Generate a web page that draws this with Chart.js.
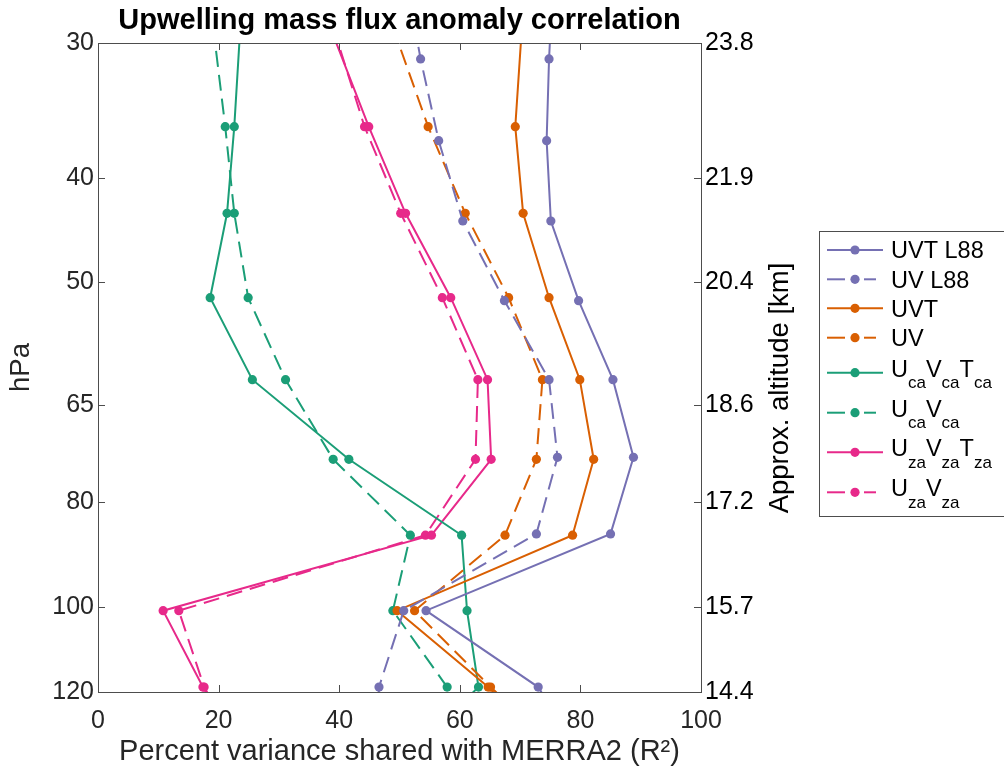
<!DOCTYPE html>
<html>
<head>
<meta charset="utf-8">
<script src="https://cdn.jsdelivr.net/npm/chart.js@4.4.1/dist/chart.umd.min.js"></script>
<style>
  html, body { margin: 0; padding: 0; background: #fff; }
  #wrap { width: 1004px; height: 777px; }
</style>
</head>
<body>
<div id="wrap"><canvas id="chart" width="1004" height="777"></canvas></div>
<script>
// pressure levels (hPa); first and last sit just outside the axis range
const levels = [29.0, 35.87, 43.16, 51.69, 61.58, 73.0, 85.85, 100.87, 118.74, 140];
const levelsL88 = [26.0, 31.04, 36.96, 43.88, 52.02, 61.58, 72.69, 85.61, 100.87, 118.74, 140];

// percent variance shared with MERRA2 at each level
const uvtL88 = [75.5, 74.8, 74.4, 75.1, 79.7, 85.4, 88.8, 85.0, 54.4, 73.0, 81];
const uvL88 = [51.0, 53.5, 56.5, 60.5, 67.4, 74.8, 76.2, 72.7, 50.7, 46.6, 46];
const uvt = [70.3, 69.2, 70.5, 74.8, 79.9, 82.2, 78.7, 49.6, 64.7, 78];
const uv = [48.9, 54.75, 60.9, 68.1, 73.7, 72.7, 67.5, 52.5, 65.1, 79];
const ucaVcaTca = [23.6, 22.6, 21.4, 18.6, 25.6, 41.6, 60.3, 61.2, 63.1, 50];
const ucaVca = [19.1, 21.1, 22.6, 24.9, 31.1, 39.0, 51.8, 48.9, 57.9, 65.6];
const uzaVzaTza = [38.5, 44.9, 51.0, 58.5, 64.6, 65.2, 55.3, 10.8, 17.4, 25.4];
const uzaVza = [39.0, 44.2, 50.2, 57.1, 63.0, 62.6, 54.3, 13.4, 17.6, 25];

const pTicks = [30, 40, 50, 65, 80, 100, 120];
const altLabels = ["23.8", "21.9", "20.4", "18.6", "17.2", "15.7", "14.4"];

// legend names as [text, subscript] pieces
const legendNames = [
  [["UVT L88", ""]],
  [["UV L88", ""]],
  [["UVT", ""]],
  [["UV", ""]],
  [["U", "ca"], ["V", "ca"], ["T", "ca"]],
  [["U", "ca"], ["V", "ca"]],
  [["U", "za"], ["V", "za"], ["T", "za"]],
  [["U", "za"], ["V", "za"]],
];

const PURPLE = "#7570b3", ORANGE = "#d95f02", GREEN = "#1b9e77", PINK = "#e7298a";
const FONT = "'Liberation Sans', Arial, Helvetica, sans-serif";
const AXIS = "#4d4d4d";
const DASH = [16, 8];

const pts = (vals, lev) => vals.map((v, i) => ({ x: v, y: lev[i] }));

const series = [
  { data: pts(uvtL88, levelsL88), color: PURPLE, dashed: false },
  { data: pts(uvL88, levelsL88), color: PURPLE, dashed: true },
  { data: pts(uvt, levels), color: ORANGE, dashed: false },
  { data: pts(uv, levels), color: ORANGE, dashed: true },
  { data: pts(ucaVcaTca, levels), color: GREEN, dashed: false },
  { data: pts(ucaVca, levels), color: GREEN, dashed: true },
  { data: pts(uzaVzaTza, levels), color: PINK, dashed: false },
  { data: pts(uzaVza, levels), color: PINK, dashed: true },
];

const datasets = series.map((s, i) => ({
  label: legendNames[i].map((p) => p[0] + p[1]).join(""),
  data: s.data,
  borderColor: s.color,
  backgroundColor: s.color,
  pointBackgroundColor: s.color,
  pointBorderColor: s.color,
  pointBorderWidth: 0,
  pointRadius: 4.6,
  borderWidth: 2,
  borderDash: s.dashed ? DASH : [],
  tension: 0,
  fill: false,
}));

// inward ticks, top border, right-hand title and legend with subscripts
const decor = {
  id: "decor",
  afterDraw(chart) {
    const { ctx, chartArea: a, scales } = chart;
    const T = 7;
    ctx.save();
    ctx.strokeStyle = AXIS;
    ctx.lineWidth = 1;
    const seg = (x1, y1, x2, y2) => {
      ctx.beginPath();
      ctx.moveTo(x1, y1);
      ctx.lineTo(x2, y2);
      ctx.stroke();
    };
    seg(a.left, a.top + 0.5, a.right, a.top + 0.5);
    scales.x.ticks.forEach((t) => {
      const px = Math.round(scales.x.getPixelForValue(t.value)) + 0.5;
      seg(px, a.bottom, px, a.bottom - T);
      seg(px, a.top, px, a.top + T);
    });
    scales.y.ticks.forEach((t) => {
      const py = Math.round(scales.y.getPixelForValue(t.value)) + 0.5;
      seg(a.left, py, a.left + T, py);
    });
    scales.y2.ticks.forEach((t) => {
      const py = Math.round(scales.y2.getPixelForValue(t.value)) + 0.5;
      seg(a.right, py, a.right - T, py);
    });

    // right axis title, reading bottom to top
    ctx.save();
    ctx.translate(780, 388);
    ctx.rotate(-Math.PI / 2);
    ctx.fillStyle = "#000";
    ctx.font = `27.5px ${FONT}`;
    ctx.textAlign = "center";
    ctx.textBaseline = "middle";
    ctx.fillText("Approx. altitude [km]", 0, 0);
    ctx.restore();

    // legend
    const rowY = [250, 279.3, 308.3, 337.7, 372.7, 412.7, 452.3, 492.3];
    ctx.fillStyle = "#fff";
    ctx.fillRect(819, 231, 200, 285);
    ctx.strokeStyle = AXIS;
    ctx.strokeRect(819.5, 231.5, 200, 285);
    series.forEach((s, i) => {
      const y = rowY[i];
      ctx.strokeStyle = s.color;
      ctx.fillStyle = s.color;
      ctx.lineWidth = 2;
      if (s.dashed) {
        seg(827, y, 845, y);
        seg(864, y, 876, y);
      } else {
        seg(827, y, 883, y);
      }
      ctx.beginPath();
      ctx.arc(855, y, 4.6, 0, Math.PI * 2);
      ctx.fill();

      const parts = legendNames[i];
      const hasSub = parts.some((p) => p[1]);
      const base = hasSub ? y + 4 : y + 8.3;
      let x = 891;
      ctx.fillStyle = "#000";
      ctx.textAlign = "left";
      ctx.textBaseline = "alphabetic";
      parts.forEach(([txt, sub]) => {
        ctx.font = `23.5px ${FONT}`;
        ctx.fillText(txt, x, base);
        x += ctx.measureText(txt).width;
        if (sub) {
          ctx.font = `17px ${FONT}`;
          ctx.fillText(sub, x, base + 11.6);
          x += ctx.measureText(sub).width;
        }
      });
    });
    ctx.restore();
  },
};

const tickFont = { size: 25, family: FONT };

new Chart(document.getElementById("chart"), {
  type: "line",
  data: { datasets },
  plugins: [decor],
  options: {
    responsive: false,
    animation: false,
    layout: { padding: { left: 0, right: 223, top: 0, bottom: 0 } },
    plugins: {
      legend: { display: false },
      tooltip: { enabled: false },
      title: {
        display: true,
        fullSize: false,
        text: "Upwelling mass flux anomaly correlation",
        color: "#000",
        font: { size: 29, weight: "bold", family: FONT },
        padding: { top: 3.5, bottom: 4.7 },
      },
    },
    scales: {
      x: {
        type: "linear",
        position: "bottom",
        min: 0,
        max: 100,
        ticks: { stepSize: 20, color: "#262626", font: tickFont, padding: 14, maxRotation: 0 },
        grid: { display: false, drawTicks: false },
        border: { display: true, color: AXIS, width: 1 },
        title: {
          display: true,
          text: "Percent variance shared with MERRA2 (R²)",
          color: "#262626",
          font: { size: 29, family: FONT },
          padding: { top: 0, bottom: 8 },
        },
        afterFit: (s) => { s.height = 85; },
      },
      y: {
        type: "logarithmic",
        position: "left",
        min: 30,
        max: 120,
        reverse: true,
        afterBuildTicks: (s) => { s.ticks = pTicks.map((v) => ({ value: v })); },
        ticks: { color: "#262626", font: tickFont, padding: 4, autoSkip: false, callback: (v) => String(v) },
        grid: { display: false, drawTicks: false },
        border: { display: true, color: AXIS, width: 1 },
        title: {
          display: true,
          text: "hPa",
          color: "#262626",
          font: { size: 27.5, family: FONT },
          padding: { top: 5, bottom: 0 },
        },
        afterFit: (s) => { s.width = 98; },
      },
      y2: {
        type: "logarithmic",
        position: "right",
        min: 30,
        max: 120,
        reverse: true,
        afterBuildTicks: (s) => { s.ticks = pTicks.map((v) => ({ value: v })); },
        ticks: { color: "#000", font: tickFont, padding: 4, autoSkip: false, callback: (v, i) => altLabels[i] },
        grid: { display: false, drawTicks: false },
        border: { display: true, color: AXIS, width: 1 },
        afterFit: (s) => { s.width = 80; },
      },
    },
  },
});
</script>
</body>
</html>
